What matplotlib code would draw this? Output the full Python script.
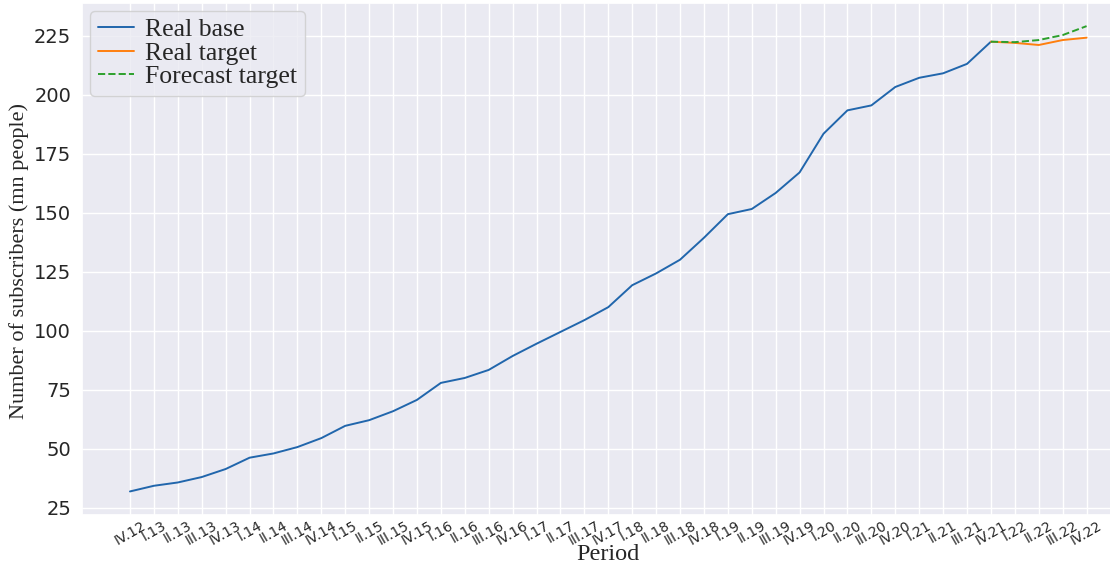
import numpy as np
import matplotlib.pyplot as plt
import seaborn as sns

# quarterly periods IV.12 .. IV.22
periods = ['IV.12'] + [f'{q}.{y}' for y in range(13, 23) for q in ['I', 'II', 'III', 'IV']]

real_base = [31.9, 34.3, 35.7, 38.0, 41.4, 46.2, 48.0, 50.7, 54.5, 59.7,
             62.1, 65.9, 70.7, 77.9, 80.0, 83.4, 89.3, 94.5, 99.5, 104.5,
             110.0, 119.3, 124.3, 130.1, 139.4, 149.4, 151.6, 158.4, 167.1, 183.5,
             193.4, 195.5, 203.3, 207.2, 209.1, 213.1, 222.5]
real_target = [222.5, 222.0, 221.1, 223.2, 224.2]
forecast_target = [222.5, 222.3, 223.2, 225.3, 229.1]

sns.set_theme(style='darkgrid')
serif = 'Liberation Serif'

fig = plt.figure(figsize=(11.1, 5.7), dpi=100)
ax = fig.add_axes([0.074, 0.097, 0.948, 0.898])

x_base = np.arange(len(real_base))
x_target = np.arange(len(real_base) - 1, len(periods))

ax.plot(x_base, real_base, color='#2166ac', lw=1.4, label='Real base')
ax.plot(x_target, real_target, color='#ff7f0e', lw=1.4, label='Real target')
ax.plot(x_target, forecast_target, color='#2ca02c', lw=1.4, ls='--', label='Forecast target')

ax.set_xticks(np.arange(len(periods)))
ax.set_xticklabels(periods, rotation=30, fontsize=10)
ax.tick_params(axis='x', pad=-3)
ax.tick_params(axis='y', labelsize=14, pad=2)
ax.set_yticks([25, 50, 75, 100, 125, 150, 175, 200, 225])

ax.set_xlabel('Period', fontsize=17.5, family=serif)
ax.set_ylabel('Number of subscribers (mn people)', fontsize=16, family=serif)
ax.xaxis.set_label_coords(0.5, -0.058)
ax.yaxis.set_label_coords(-0.0505, 0.495)

ax.legend(loc='upper left', prop={'family': serif, 'size': 18.5},
          handlelength=1.4, handletextpad=0.45, borderaxespad=0.3,
          borderpad=0.3, labelspacing=0.02)

plt.savefig('out.png')
